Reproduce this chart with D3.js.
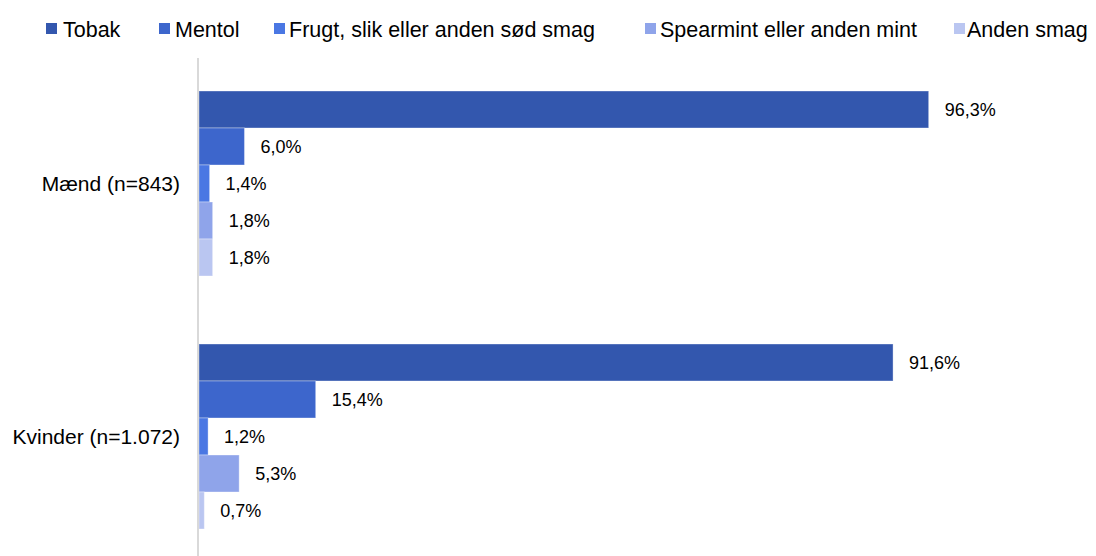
<!DOCTYPE html>
<html>
<head>
<meta charset="utf-8">
<script src="https://cdn.jsdelivr.net/npm/d3@7"></script>
<style>
  body { margin: 0; background: #fff; }
  svg { display: block; font-family: "Liberation Sans", Arial, sans-serif; }
</style>
</head>
<body>
<svg id="chart"></svg>
<script>
var width = 1096, height = 556;

// data
var categories = ["Mænd (n=843)", "Kvinder (n=1.072)"];
var series = ["Tobak", "Mentol", "Frugt, slik eller anden sød smag", "Spearmint eller anden mint", "Anden smag"];
var tobak = [96.3, 91.6];
var mentol = [6.0, 15.4];
var frugt = [1.4, 1.2];
var spearmint = [1.8, 5.3];
var anden = [1.8, 0.7];
var values = [tobak, mentol, frugt, spearmint, anden];

var colors = ["#3357ae", "#3d66cc", "#4a77e3", "#8fa4ea", "#bac6f1"];
// legend layout (marker x, text x)
var legendMarkX = [46, 159, 274, 645, 954];
var legendTextX = [63, 175, 289, 660, 967];

var svg = d3.select("#chart")
    .attr("width", width)
    .attr("height", height);

var x = d3.scaleLinear()
    .domain([0, 100])
    .range([199, 956.7]);

var y0 = d3.scaleBand()
    .domain(categories)
    .range([57, 563])
    .paddingInner(0)
    .paddingOuter(0);

var y1 = d3.scaleBand()
    .domain(series)
    .range([0, 185]);

var fmt = function (v) { return v.toFixed(1).replace(".", ",") + "%"; };

// bars
categories.forEach(function (c, ci) {
  var g = svg.append("g")
    .attr("transform", "translate(0," + (y0(c) + (y0.bandwidth() - 185) / 2) + ")");

  series.forEach(function (s, si) {
    var v = values[si][ci];
    g.append("rect")
      .attr("x", x(0))
      .attr("y", y1(s))
      .attr("width", x(v) - x(0))
      .attr("height", y1.bandwidth())
      .attr("fill", colors[si])
      .attr("stroke", "#ffffff")
      .attr("stroke-opacity", 0.35)
      .attr("stroke-width", 1);

    g.append("text")
      .attr("x", x(v) + 16)
      .attr("y", y1(s) + y1.bandwidth() / 2)
      .attr("dy", ".35em")
      .attr("font-size", "18px")
      .attr("fill", "#000")
      .text(fmt(v));
  });

  svg.append("text")
    .attr("x", 180)
    .attr("y", y0(c) + y0.bandwidth() / 2)
    .attr("dy", ".35em")
    .attr("text-anchor", "end")
    .attr("font-size", "21px")
    .attr("fill", "#000")
    .text(c);
});

// vertical axis line
svg.append("line")
  .attr("x1", 198).attr("x2", 198)
  .attr("y1", 58).attr("y2", height)
  .attr("stroke", "#d9d9d9")
  .attr("stroke-width", 2);

// legend
var legend = svg.append("g");
series.forEach(function (s, i) {
  legend.append("rect")
    .attr("x", legendMarkX[i])
    .attr("y", 23)
    .attr("width", 11)
    .attr("height", 11)
    .attr("fill", colors[i]);
  legend.append("text")
    .attr("x", legendTextX[i])
    .attr("y", 29)
    .attr("dy", ".35em")
    .attr("font-size", "21.5px")
    .attr("fill", "#000")
    .text(s);
});
</script>
</body>
</html>
